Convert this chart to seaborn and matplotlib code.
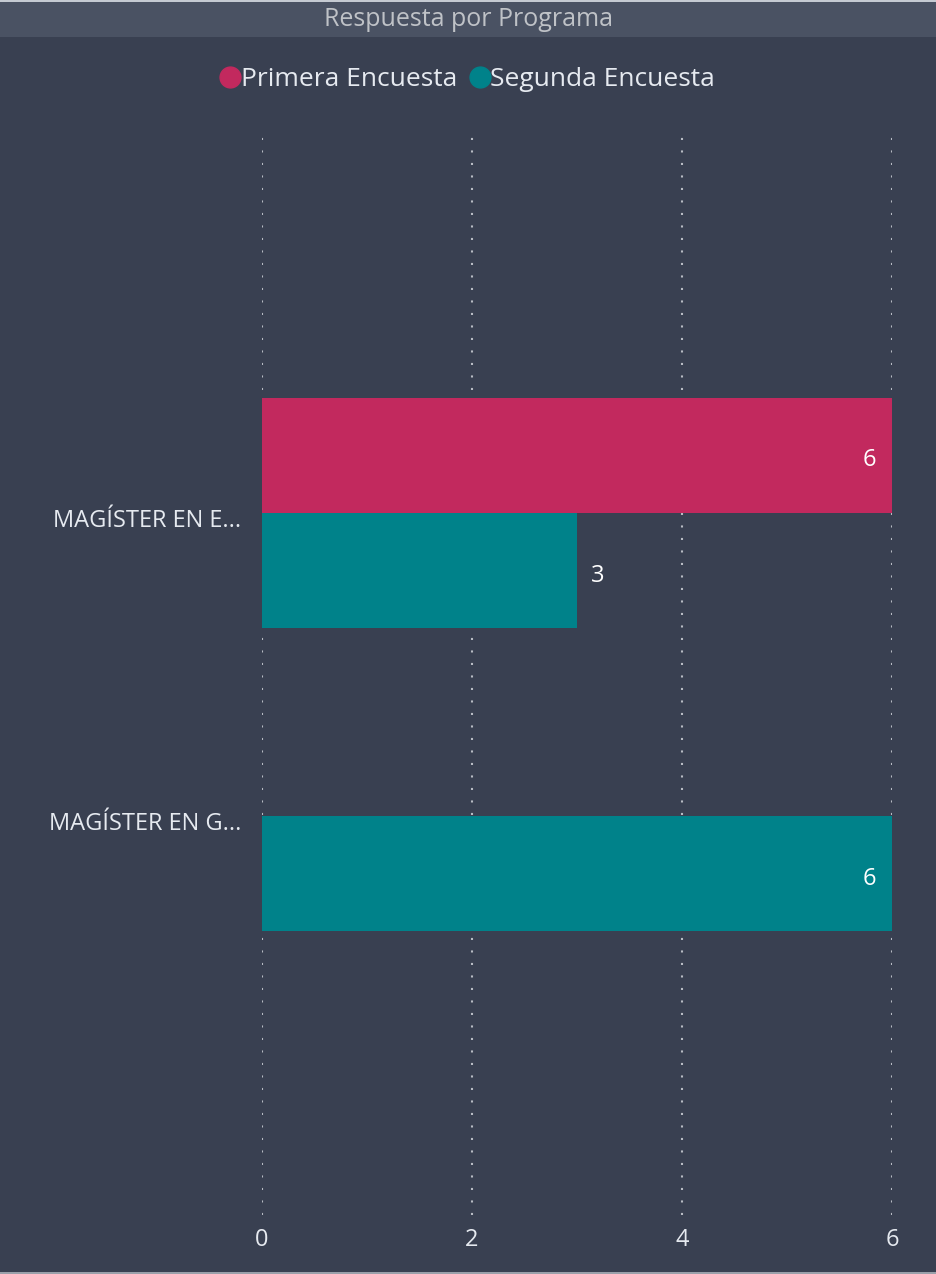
import numpy as np
import pandas as pd
import matplotlib
matplotlib.use("Agg")
import matplotlib.pyplot as plt
import matplotlib.transforms as mtransforms
from matplotlib.lines import Line2D
from matplotlib.patches import Rectangle
import seaborn as sns

# data
programas = ["MAGÍSTER EN E...", "MAGÍSTER EN G..."]
encuestas = ["Primera Encuesta", "Segunda Encuesta"]
primera = [6, np.nan]
segunda = [3, 6]
x_ticks = [0, 2, 4, 6]

colores = ["#C2295E", "#00828A"]
bg = "#394051"
title_bg = "#4A5263"
text_col = "#E6EAF0"

df = pd.DataFrame({
    "Programa": programas * 2,
    "Encuesta": [encuestas[0]] * 2 + [encuestas[1]] * 2,
    "Respuestas": primera + segunda,
})

sns.set_theme(style="dark")
plt.rcParams["font.family"] = ["Open Sans", "DejaVu Sans"]

fig = plt.figure(figsize=(9.36, 12.74), dpi=100, facecolor=bg)
ax = fig.add_axes([262 / 936, 1 - 1215 / 1274, (892 - 262) / 936, (1215 - 130) / 1274])
ax.set_facecolor(bg)

sns.barplot(data=df, y="Programa", x="Respuestas", hue="Encuesta",
            order=programas, hue_order=encuestas, palette=colores,
            orient="h", width=0.76, dodge=True, saturation=1,
            errorbar=None, ax=ax, legend=False, zorder=3, linewidth=0)

ax.set_xlim(0, 6)
ax.set_ylim(2.317, -1.264)
ax.set_xticks(x_ticks)
ax.set_xticklabels([str(t) for t in x_ticks])
ax.tick_params(axis="x", colors=text_col, labelsize=17, pad=9, length=0)
ax.tick_params(axis="y", colors=text_col, labelsize=17, pad=15, length=0)
ax.set_xlabel("")
ax.set_ylabel("")
for s in ax.spines.values():
    s.set_visible(False)
ax.grid(False)
for t in x_ticks:
    ax.axvline(t, color="#B8BCC4", linestyle=(0, (1, 5)), linewidth=1.5, zorder=1)

# nudge text a few pixels down to match the reference baseline
shift = mtransforms.ScaledTranslation(0, -5 / 100, fig.dpi_scale_trans)
for lbl in ax.get_yticklabels():
    lbl.set_transform(lbl.get_transform() + shift)

# value labels
for p in ax.patches:
    w = p.get_width()
    if np.isnan(w) or w == 0:
        continue
    yc = p.get_y() + p.get_height() / 2
    if w >= 5.5:
        ax.text(w - 0.15, yc, f"{w:.0f}", ha="right", va="center",
                color="white", fontsize=17, zorder=4, transform=ax.transData + shift)
    else:
        ax.text(w + 0.13, yc, f"{w:.0f}", ha="left", va="center",
                color="white", fontsize=17, zorder=4, transform=ax.transData + shift)

# title bar and thin frame lines
fig.patches.append(Rectangle((0, 1 - 37 / 1274), 1, 37 / 1274, transform=fig.transFigure,
                             facecolor=title_bg, edgecolor="none", zorder=0))
fig.patches.append(Rectangle((0, 1 - 2 / 1274), 1, 2 / 1274, transform=fig.transFigure,
                             facecolor="#C5CAD2", edgecolor="none", zorder=1))
fig.patches.append(Rectangle((0, 0), 1, 2 / 1274, transform=fig.transFigure,
                             facecolor="#9AA0AA", edgecolor="none", zorder=1))
fig.text(0.5, 1 - 20 / 1274, "Respuesta por Programa", ha="center", va="center",
         color="#BFC2C7", fontsize=18)

# legend
handles = [Line2D([0], [0], marker="o", linestyle="", markersize=15,
                  markerfacecolor=c, markeredgecolor=c) for c in colores]
fig.legend(handles, encuestas, loc="center", bbox_to_anchor=(466 / 936, 1 - 80 / 1274),
           ncol=2, frameon=False, fontsize=19, labelcolor=text_col,
           handletextpad=-0.1, columnspacing=0.35, handlelength=1.0)

fig.savefig("out.png", dpi=100, facecolor=bg)
